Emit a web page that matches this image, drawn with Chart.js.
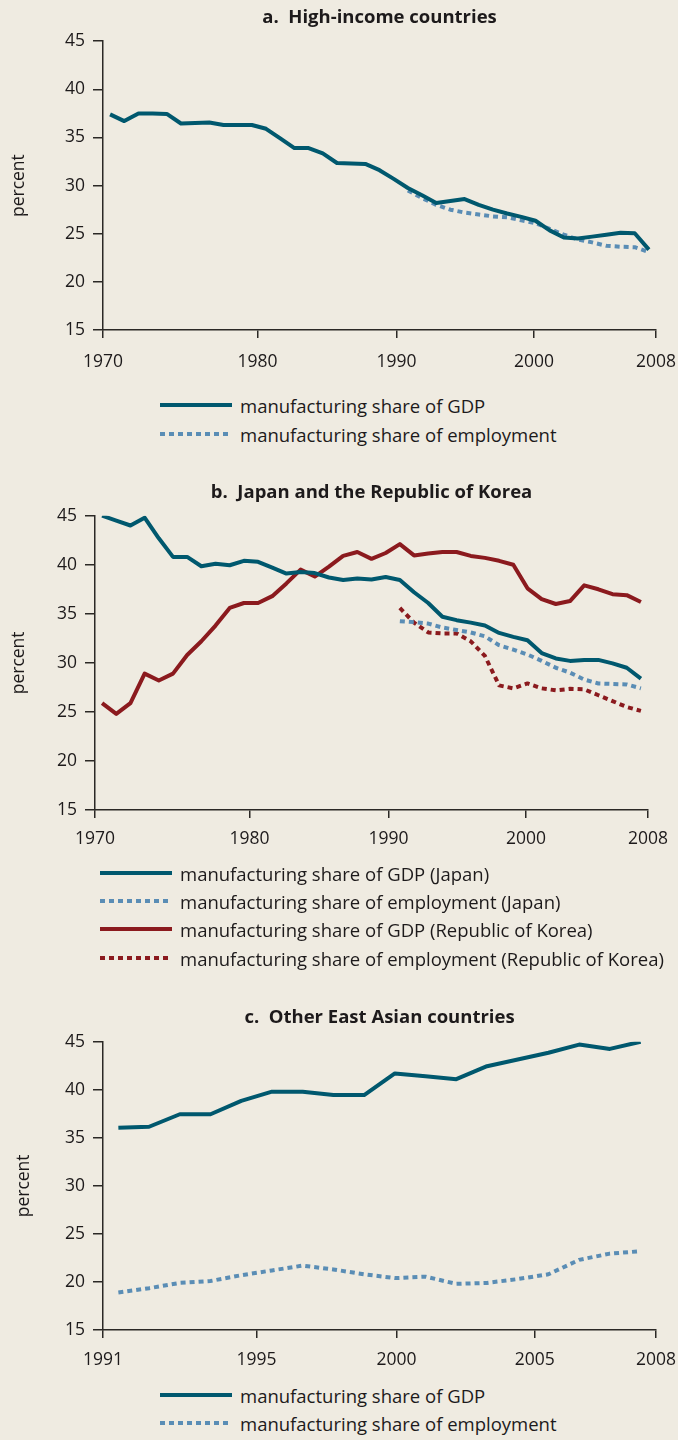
<!DOCTYPE html>
<html>
<head>
<meta charset="utf-8">
<script src="https://cdn.jsdelivr.net/npm/chart.js@4.4.0/dist/chart.umd.min.js"></script>
<style>
    html, body { margin: 0; padding: 0; background: #efebe1; }
    body { width: 678px; height: 1440px; position: relative; overflow: hidden; font-family: "Open Sans", sans-serif; color: #1d1a1b; }
    .panel { position: absolute; left: 0; width: 678px; }
    .row { position: absolute; height: 28px; display: flex; align-items: center; white-space: nowrap; font-size: 18.5px; }
    .row svg { margin-right: 8px; flex: none; }
</style>
</head>
<body>
<div class="panel" style="top:0;height:380px"><canvas id="chartA"></canvas></div>
<div id="legendA"></div>
<div class="panel" style="top:470px;height:390px"><canvas id="chartB"></canvas></div>
<div id="legendB"></div>
<div class="panel" style="top:995px;height:385px"><canvas id="chartC"></canvas></div>
<div id="legendC"></div>

<script>
// ---- data ----
const yearsLong = [1970, 1971, 1972, 1973, 1974, 1975, 1976, 1977, 1978, 1979,
    1980, 1981, 1982, 1983, 1984, 1985, 1986, 1987, 1988, 1989,
    1990, 1991, 1992, 1993, 1994, 1995, 1996, 1997, 1998, 1999,
    2000, 2001, 2002, 2003, 2004, 2005, 2006, 2007, 2008];
const yearsShort = [1991, 1992, 1993, 1994, 1995, 1996, 1997, 1998, 1999,
    2000, 2001, 2002, 2003, 2004, 2005, 2006, 2007, 2008];

// a. High-income countries
const highGdp = [37.4, 36.7, 37.5, 37.5, 37.45, 36.45, 36.5, 36.55, 36.3, 36.3,
    36.3, 35.9, 34.9, 33.9, 33.9, 33.35, 32.35, 32.3, 32.25, 31.6,
    30.7, 29.75, 29.0, 28.2, 28.4, 28.6, 28.0, 27.5, 27.1, 26.75,
    26.35, 25.35, 24.6, 24.5, 24.7, 24.9, 25.1, 25.05, 23.35];
const highEmp = [29.5, 28.7, 28.0, 27.5, 27.2, 27.0, 26.8, 26.7, 26.4,
    26.1, 25.5, 24.9, 24.4, 24.1, 23.75, 23.65, 23.6, 23.1];

// b. Japan and the Republic of Korea
const japanGdp = [45.0, 44.5, 44.0, 44.8, 42.7, 40.8, 40.8, 39.85, 40.1, 39.95,
    40.4, 40.3, 39.7, 39.1, 39.25, 39.15, 38.7, 38.45, 38.6, 38.5,
    38.75, 38.45, 37.2, 36.1, 34.7, 34.35, 34.1, 33.8, 33.05, 32.65,
    32.3, 31.0, 30.45, 30.2, 30.3, 30.3, 29.95, 29.5, 28.4];
const japanEmp = [34.25, 34.15, 34.0, 33.6, 33.35, 33.1, 32.7, 31.8, 31.35,
    30.85, 30.2, 29.5, 29.0, 28.3, 27.9, 27.85, 27.8, 27.4];
const koreaGdp = [25.9, 24.8, 25.9, 28.9, 28.2, 28.9, 30.8, 32.2, 33.8, 35.6,
    36.1, 36.1, 36.8, 38.1, 39.5, 38.8, 39.8, 40.9, 41.3, 40.6,
    41.2, 42.1, 40.95, 41.15, 41.3, 41.3, 40.9, 40.7, 40.4, 40.0,
    37.6, 36.5, 36.0, 36.3, 37.9, 37.5, 37.0, 36.9, 36.2];
const koreaEmp = [35.6, 34.1, 33.1, 33.0, 33.0, 32.2, 30.7, 27.7, 27.4,
    27.9, 27.4, 27.2, 27.35, 27.3, 26.7, 26.1, 25.5, 25.1];

// c. Other East Asian countries
const eastAsiaGdp = [36.05, 36.15, 37.45, 37.45, 38.85, 39.8, 39.8, 39.45, 39.45,
    41.7, 41.4, 41.1, 42.45, 43.15, 43.85, 44.7, 44.25, 45.0];
const eastAsiaEmp = [18.9, 19.35, 19.9, 20.1, 20.7, 21.2, 21.7, 21.3, 20.8,
    20.4, 20.55, 19.8, 19.9, 20.3, 20.8, 22.3, 22.95, 23.2];

// tick values (x) and their labels
const ticksLong = [1969.5, 1980.4, 1990.2, 1999.9, 2008.5];
const labelsLong = ['1970', '1980', '1990', '2000', '2008'];
const ticksShort = [1990.5, 1995.5, 2000.05, 2004.55, 2008.5];
const labelsShort = ['1991', '1995', '2000', '2005', '2008'];

const titles = ['a.  High-income countries', 'b.  Japan and the Republic of Korea', 'c.  Other East Asian countries'];

// ---- style ----
const INK = '#1d1a1b';
const AXIS = '#2b2825';
const TEAL = '#00586e';
const LIGHT = '#5a8db5';
const RED = '#8b1a1e';
const FONT = '"Open Sans", sans-serif';

Chart.defaults.font.family = FONT;
Chart.defaults.font.size = 17.5;
Chart.defaults.color = INK;

function toPoints(years, values) {
    return years.map((yr, i) => ({ x: yr, y: values[i] }));
}

function line(label, years, values, color, dashed) {
    return {
        label: label,
        data: toPoints(years, values),
        borderColor: color,
        backgroundColor: color,
        borderWidth: 4,
        borderDash: dashed ? [5, 4] : [],
        borderJoinStyle: 'round',
        pointRadius: 0,
        tension: 0,
        fill: false
    };
}

function makeChart(id, opt) {
    const ctx = document.getElementById(id).getContext('2d');
    return new Chart(ctx, {
        type: 'line',
        data: { datasets: opt.datasets },
        options: {
            responsive: true,
            maintainAspectRatio: false,
            animation: false,
            layout: { padding: { left: 0, right: opt.rightPad, top: 0, bottom: 0 } },
            plugins: {
                legend: { display: false },
                tooltip: { enabled: false },
                title: {
                    display: true,
                    text: opt.title,
                    fullSize: false,
                    color: INK,
                    font: { family: FONT, size: 18.5, weight: 'bold' },
                    padding: opt.titlePad
                }
            },
            scales: {
                x: {
                    type: 'linear',
                    min: opt.xMin,
                    max: opt.xMax,
                    border: { display: true, color: AXIS, width: 1.5 },
                    grid: { drawOnChartArea: false, drawTicks: true, tickLength: 8, color: AXIS, lineWidth: 1.5 },
                    ticks: {
                        autoSkip: false,
                        maxRotation: 0,
                        padding: opt.xPad,
                        color: INK,
                        callback: (value, index) => opt.xLabels[index]
                    },
                    afterBuildTicks: axis => { axis.ticks = opt.xTicks.map(v => ({ value: v })); },
                    afterFit: axis => {
                        axis.height = 50;
                        // keep the plot width fixed, labels may spill into the margin
                        axis.paddingLeft = 0;
                        axis.paddingRight = 0;
                    }
                },
                y: {
                    min: 15,
                    max: 45,
                    border: { display: true, color: AXIS, width: 1.5 },
                    grid: { drawOnChartArea: false, drawTicks: true, tickLength: 10, color: AXIS, lineWidth: 1.5 },
                    ticks: { stepSize: 5, padding: 8, color: INK },
                    title: { display: true, text: 'percent', color: INK, font: { size: 17.5 }, padding: { top: opt.yTitlePad, bottom: 0 } },
                    afterFit: axis => { axis.width = opt.yWidth; }
                }
            }
        }
    });
}

makeChart('chartA', {
    title: titles[0],
    titlePad: { top: 7, bottom: 12 },
    yTitlePad: 9,
    yWidth: 103,
    rightPad: 22,
    xPad: 14,
    xMin: 1969.5, xMax: 2008.5,
    xTicks: ticksLong, xLabels: labelsLong,
    datasets: [
        line('manufacturing share of GDP', yearsLong, highGdp, TEAL, false),
        line('manufacturing share of employment', yearsShort, highEmp, LIGHT, true)
    ]
});

makeChart('chartB', {
    title: titles[1],
    titlePad: { top: 12, bottom: 11.5 },
    yTitlePad: 9,
    yWidth: 95,
    rightPad: 30,
    xPad: 11,
    xMin: 1969.5, xMax: 2008.5,
    xTicks: ticksLong, xLabels: labelsLong,
    datasets: [
        line('manufacturing share of GDP (Japan)', yearsLong, japanGdp, TEAL, false),
        line('manufacturing share of employment (Japan)', yearsShort, japanEmp, LIGHT, true),
        line('manufacturing share of GDP (Republic of Korea)', yearsLong, koreaGdp, RED, false),
        line('manufacturing share of employment (Republic of Korea)', yearsShort, koreaEmp, RED, true)
    ]
});

makeChart('chartC', {
    title: titles[2],
    titlePad: { top: 12, bottom: 12.5 },
    yTitlePad: 14,
    yWidth: 103,
    rightPad: 22,
    xPad: 12,
    xMin: 1990.5, xMax: 2008.5,
    xTicks: ticksShort, xLabels: labelsShort,
    datasets: [
        line('manufacturing share of GDP', yearsShort, eastAsiaGdp, TEAL, false),
        line('manufacturing share of employment', yearsShort, eastAsiaEmp, LIGHT, true)
    ]
});

// html legends
function legend(id, left, tops, items) {
    const box = document.getElementById(id);
    items.forEach((it, i) => {
        const row = document.createElement('div');
        row.className = 'row';
        row.style.left = left + 'px';
        row.style.top = (tops[i] - 14) + 'px';
        const dash = it.dashed ? ' stroke-dasharray="5 4"' : '';
        row.innerHTML = '<svg width="72" height="8"><line x1="0" y1="4" x2="72" y2="4" stroke="' + it.color +
            '" stroke-width="4"' + dash + '/></svg><span>' + it.text + '</span>';
        box.appendChild(row);
    });
}

legend('legendA', 160, [405, 434], [
    { text: 'manufacturing share of GDP', color: TEAL, dashed: false },
    { text: 'manufacturing share of employment', color: LIGHT, dashed: true }
]);
legend('legendB', 100, [873, 901, 929, 958], [
    { text: 'manufacturing share of GDP (Japan)', color: TEAL, dashed: false },
    { text: 'manufacturing share of employment (Japan)', color: LIGHT, dashed: true },
    { text: 'manufacturing share of GDP (Republic of Korea)', color: RED, dashed: false },
    { text: 'manufacturing share of employment (Republic of Korea)', color: RED, dashed: true }
]);
legend('legendC', 160, [1395, 1423], [
    { text: 'manufacturing share of GDP', color: TEAL, dashed: false },
    { text: 'manufacturing share of employment', color: LIGHT, dashed: true }
]);
</script>
</body>
</html>
